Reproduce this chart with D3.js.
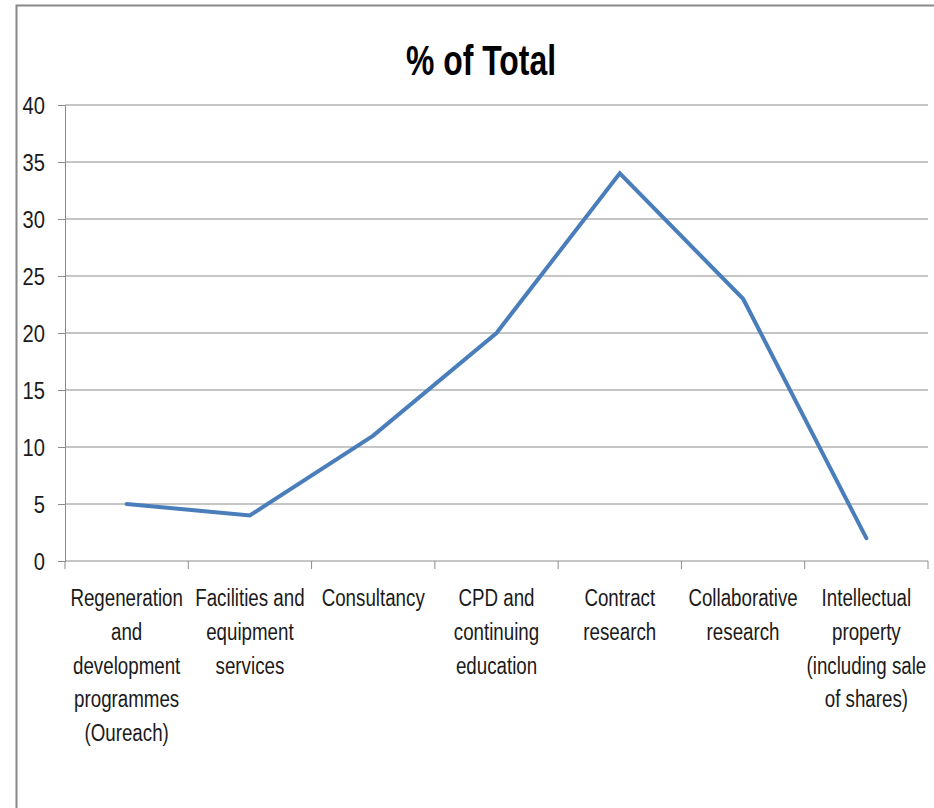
<!DOCTYPE html>
<html>
<head>
<meta charset="utf-8">
<script src="https://cdn.jsdelivr.net/npm/d3@7"></script>
<style>
  html, body { margin: 0; padding: 0; background: #fff; }
  svg { display: block; }
  text { font-family: "Liberation Sans", Arial, sans-serif; fill: #1a1a1a; }
</style>
</head>
<body>
<svg id="chart" width="934" height="808"></svg>
<script>
const title = "% of Total";
const categories = [
  ["Regeneration", "and", "development", "programmes", "(Oureach)"],
  ["Facilities and", "equipment", "services"],
  ["Consultancy"],
  ["CPD and", "continuing", "education"],
  ["Contract", "research"],
  ["Collaborative", "research"],
  ["Intellectual", "property", "(including sale", "of shares)"]
];
const values = [5, 4, 11, 20, 34, 23, 2];
const yTicks = [0, 5, 10, 15, 20, 25, 30, 35, 40];

(function () {
const svg = d3.select("#chart");

// frame
svg.append("path")
  .attr("d", "M16.5,808 L16.5,5.5 L934,5.5")
  .attr("fill", "none")
  .attr("stroke", "#888")
  .attr("stroke-width", 2);

const pLeft = 65, pRight = 928, pTop = 105, pBottom = 561;
const keys = categories.map((c, i) => i);
const x = d3.scaleBand().domain(keys).range([pLeft, pRight]);
const y = d3.scaleLinear().domain([0, 40]).range([pBottom, pTop]);

// title (condensed)
svg.append("text")
  .attr("transform", "translate(481,75) scale(0.76,1)")
  .attr("text-anchor", "middle")
  .style("font-size", "42px")
  .style("font-weight", "bold")
  .style("fill", "#000")
  .text(title);

// y axis
const ys = 0.84;
const yAxis = d3.axisLeft(y).tickValues(yTicks).tickSize(7).tickPadding(0);
const gy = svg.append("g").attr("transform", `translate(${pLeft},0)`).call(yAxis);
gy.select(".domain").attr("stroke", "#8c8c8c");
gy.selectAll(".tick line").attr("stroke", "#8c8c8c");
gy.selectAll(".tick text")
  .style("font-size", "24px")
  .attr("fill", "#1a1a1a")
  .attr("x", -20 / ys)
  .attr("dy", "0.35em")
  .attr("transform", `scale(${ys},1)`);

// gridlines
svg.append("g").selectAll("line").data(yTicks).join("line")
  .attr("x1", pLeft).attr("x2", pRight)
  .attr("y1", d => y(d)).attr("y2", d => y(d))
  .attr("stroke", "#8c8c8c").attr("stroke-width", 1);

// x axis ticks at band boundaries
const boundaries = keys.map(k => x(k)).concat([pRight]);
svg.append("g").selectAll("line").data(boundaries).join("line")
  .attr("x1", d => d).attr("x2", d => d)
  .attr("y1", pBottom).attr("y2", pBottom + 8)
  .attr("stroke", "#8c8c8c");

// x labels (condensed)
const lab = svg.append("g").selectAll("text").data(categories).join("text")
  .attr("text-anchor", "middle")
  .style("font-size", "23px")
  .attr("transform", (d, i) => `translate(${x(i) + x.bandwidth() / 2},${pBottom + 45}) scale(0.815,1)`);
lab.selectAll("tspan").data(d => d).join("tspan")
  .attr("x", 0)
  .attr("y", (d, j) => j * 33.8)
  .text(d => d);

// line
const line = d3.line()
  .x((d, i) => x(i) + x.bandwidth() / 2)
  .y(d => y(d));
svg.append("path")
  .datum(values)
  .attr("d", line)
  .attr("fill", "none")
  .attr("stroke", "#4a7ebb")
  .attr("stroke-width", 4)
  .attr("stroke-linejoin", "miter")
  .attr("stroke-linecap", "round");
})();
</script>
</body>
</html>
